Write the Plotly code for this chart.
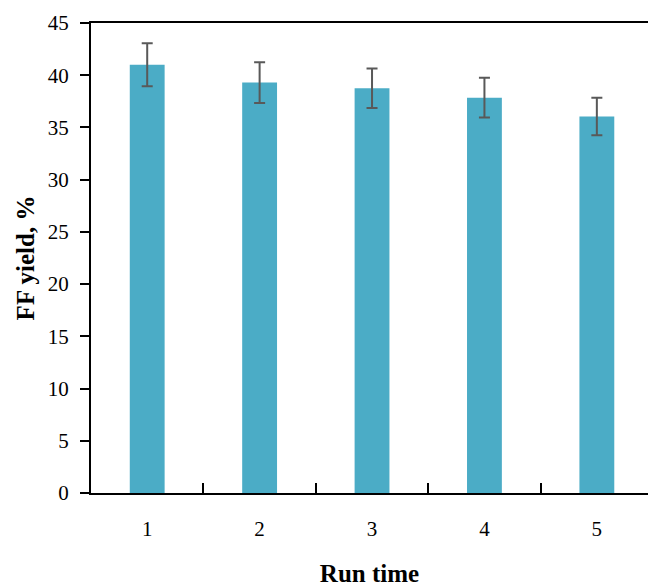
import plotly.graph_objects as go

categories = ["1", "2", "3", "4", "5"]
values = [41.0, 39.3, 38.75, 37.85, 36.05]
errors = [2.05, 1.95, 1.9, 1.9, 1.8]

font_family = "Liberation Serif"

fig = go.Figure()
fig.add_trace(go.Bar(
    x=categories, y=values,
    width=0.31,
    marker=dict(color="#4BACC6", line=dict(width=0)),
    error_y=dict(type="data", array=errors, visible=True,
                 color="#595959", thickness=2, width=5.5),
))

fig.update_layout(
    width=648, height=587,
    margin=dict(l=91, r=0, t=23, b=94),
    paper_bgcolor="white", plot_bgcolor="white",
    showlegend=False,
    font=dict(family=font_family, size=21, color="black"),
    xaxis=dict(
        type="category",
        range=[-0.5, 4.455],
        showline=True, linecolor="black", linewidth=2, mirror=True,
        ticks="inside", tickson="boundaries", ticklen=10, tickwidth=2, tickcolor="black",
        ticklabelstandoff=16,
        showgrid=False,
        title=dict(text="<b>Run time</b>", font=dict(size=25), standoff=24),
    ),
    yaxis=dict(
        range=[0, 45], dtick=5,
        showline=True, linecolor="black", linewidth=2, mirror=False,
        ticks="outside", ticklen=9, tickwidth=2, tickcolor="black",
        ticklabelstandoff=7,
        showgrid=False, zeroline=False,
        title=dict(text="<b>FF yield, %</b>", font=dict(size=25), standoff=6),
    ),
)

fig.write_html(
    "out.html",
    config={"displayModeBar": False},
    post_script="document.body.style.margin='0';document.body.style.overflow='hidden';",
)
